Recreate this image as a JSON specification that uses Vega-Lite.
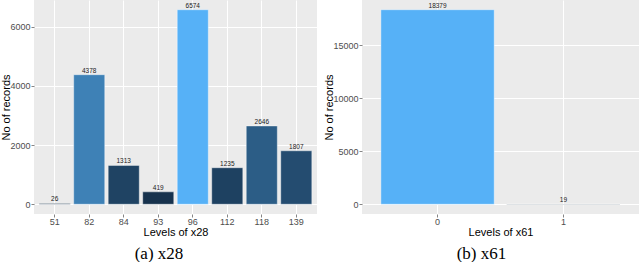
{
  "$schema": "https://vega.github.io/schema/vega-lite/v6.json",
  "padding": {"left": 0, "right": 0, "top": 0, "bottom": 0},
  "spacing": 6,
  "resolve": {"scale": {"color": "independent", "x": "independent", "y": "independent"}},
  "config": {
    "view": {"fill": "#EBEBEB", "stroke": null},
    "axis": {
      "labelFont": "Liberation Sans", "labelFontSize": 9, "labelColor": "#4D4D4D",
      "titleFont": "Liberation Sans", "titleFontSize": 11, "titleFontWeight": "normal", "titleColor": "#000000",
      "tickColor": "#333333", "tickSize": 3, "tickWidth": 0.6, "domain": false,
      "gridColor": "#FFFFFF", "labelPadding": 1, "titlePadding": 0
    },
    "axisY": {"titlePadding": -2},
    "title": {"font": "Liberation Serif", "fontSize": 17, "fontWeight": "normal", "color": "#000000", "orient": "bottom", "anchor": "middle", "frame": "bounds"}
  },
  "hconcat": [
    {
      "width": 283, "height": 214,
      "title": {"text": "(a) x28", "offset": 9},
      "data": {"values": [
        {"level": "51", "count": 26},
        {"level": "82", "count": 4378},
        {"level": "84", "count": 1313},
        {"level": "93", "count": 419},
        {"level": "96", "count": 6574},
        {"level": "112", "count": 1235},
        {"level": "118", "count": 2646},
        {"level": "139", "count": 1807}
      ]},
      "encoding": {
        "x": {"field": "level", "type": "nominal", "sort": null,
              "scale": {"paddingInner": 0.1, "paddingOuter": 0.15},
              "axis": {"title": "Levels of x28", "labelAngle": 0, "bandPosition": 0.5, "gridWidth": 1.1, "grid": true, "labelPadding": 0}}
      },
      "layer": [
        {
          "mark": {"type": "bar", "stroke": "#FFFFFF", "strokeWidth": 0.5, "strokeOpacity": 0.8},
          "encoding": {
            "y": {"field": "count", "type": "quantitative",
                  "scale": {"domain": [-329, 6903], "nice": false, "zero": false},
                  "axis": {"title": "No of records", "format": "d",
                           "values": [0, 1000, 2000, 3000, 4000, 5000, 6000],
                           "labelExpr": "datum.value % 2000 === 0 ? datum.label : ''",
                           "gridWidth": {"condition": {"test": "datum.value % 2000 === 0", "value": 1.1}, "value": 0.5},
                           "tickOpacity": {"condition": {"test": "datum.value % 2000 === 0", "value": 1}, "value": 0}}},
            "y2": {"datum": 0},
            "color": {"field": "count", "type": "quantitative",
                      "scale": {"range": ["#132B43", "#56B1F7"], "interpolate": "lab", "zero": false},
                      "legend": null}
          }
        },
        {
          "mark": {"type": "text", "baseline": "bottom", "dy": -1, "fontSize": 6.5, "font": "Liberation Sans", "color": "#222222"},
          "encoding": {
            "y": {"field": "count", "type": "quantitative"},
            "text": {"field": "count", "type": "quantitative", "format": "d"}
          }
        }
      ]
    },
    {
      "width": 277, "height": 214,
      "title": {"text": "(b) x61", "offset": 9},
      "data": {"values": [
        {"level": "0", "count": 18379},
        {"level": "1", "count": 19}
      ]},
      "encoding": {
        "x": {"field": "level", "type": "nominal", "sort": null,
              "scale": {"paddingInner": 0.1, "paddingOuter": 0.15},
              "axis": {"title": "Levels of x61", "labelAngle": 0, "bandPosition": 0.5, "gridWidth": 1.1, "grid": true, "labelPadding": 0}}
      },
      "layer": [
        {
          "mark": {"type": "bar", "stroke": "#FFFFFF", "strokeWidth": 0.5, "strokeOpacity": 0.8},
          "encoding": {
            "y": {"field": "count", "type": "quantitative",
                  "scale": {"domain": [-919, 19298], "nice": false, "zero": false},
                  "axis": {"title": "No of records", "format": "d",
                           "values": [0, 2500, 5000, 7500, 10000, 12500, 15000, 17500],
                           "labelExpr": "datum.value % 5000 === 0 ? datum.label : ''",
                           "gridWidth": {"condition": {"test": "datum.value % 5000 === 0", "value": 1.1}, "value": 0.5},
                           "tickOpacity": {"condition": {"test": "datum.value % 5000 === 0", "value": 1}, "value": 0}}},
            "y2": {"datum": 0},
            "color": {"field": "count", "type": "quantitative",
                      "scale": {"range": ["#132B43", "#56B1F7"], "interpolate": "lab", "zero": false},
                      "legend": null}
          }
        },
        {
          "mark": {"type": "text", "baseline": "bottom", "dy": -1, "fontSize": 6.5, "font": "Liberation Sans", "color": "#222222"},
          "encoding": {
            "y": {"field": "count", "type": "quantitative"},
            "text": {"field": "count", "type": "quantitative", "format": "d"}
          }
        }
      ]
    }
  ]
}
